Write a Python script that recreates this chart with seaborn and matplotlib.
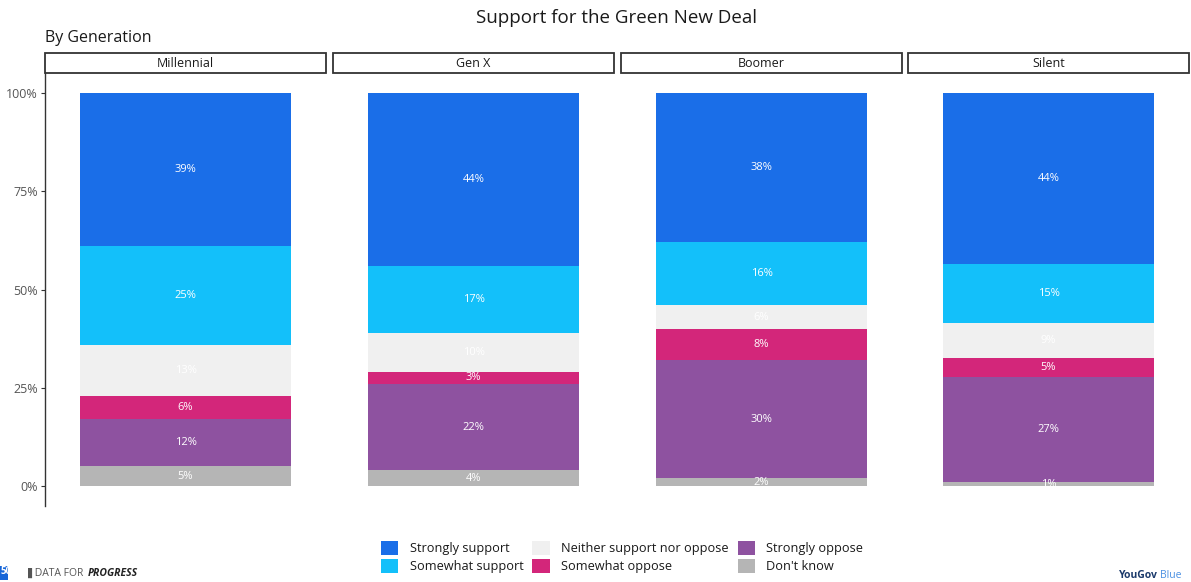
import matplotlib
matplotlib.use("Agg")
import matplotlib.pyplot as plt
from matplotlib.patches import Patch, Rectangle
import numpy as np
import pandas as pd
import seaborn as sns

# ---- data -------------------------------------------------------------
generations = ["Millennial", "Gen X", "Boomer", "Silent"]
responses = ["Strongly support", "Somewhat support", "Neither support nor oppose",
             "Somewhat oppose", "Strongly oppose", "Don't know"]
strongly_support = [39, 44, 38, 44]
somewhat_support = [25, 17, 16, 15]
neither = [13, 10, 6, 9]
somewhat_oppose = [6, 3, 8, 5]
strongly_oppose = [12, 22, 30, 27]
dont_know = [5, 4, 2, 1]
palette = ["#1a6ee8", "#13c0fa", "#f0f0f0", "#d3267a", "#8e52a0", "#b5b5b5"]
y_ticks = [0, 0.25, 0.5, 0.75, 1.0]
y_tick_labels = ["0%", "25%", "50%", "75%", "100%"]

series = [strongly_support, somewhat_support, neither,
          somewhat_oppose, strongly_oppose, dont_know]
rows = []
for gi, gen in enumerate(generations):
    for ri, resp in enumerate(responses):
        rows.append({"generation": gen, "response": resp, "value": series[ri][gi]})
df = pd.DataFrame(rows)
df["share"] = df["value"] / df.groupby("generation")["value"].transform("sum")
# stacking from the bottom: Don't know first, Strongly support on top
stack_order = responses[::-1]
df["response"] = pd.Categorical(df["response"], stack_order, ordered=True)
df = df.sort_values(["generation", "response"])
df["top"] = df.groupby("generation")["share"].cumsum()
df["mid"] = df["top"] - df["share"] / 2

# ---- figure -----------------------------------------------------------
sns.set_theme(style="white")
plt.rcParams["font.family"] = ["Open Sans", "DejaVu Sans"]

W, H = 1191, 582
fig = plt.figure(figsize=(W / 100, H / 100), dpi=100)

panel_left = [45, 333, 621, 908]
panel_w = 281
ax_top, ax_bot = 73.3, 505.7
ax_h = ax_bot - ax_top
color_of = dict(zip(responses, palette))

axes = []
for i, gen in enumerate(generations):
    ax = fig.add_axes([panel_left[i] / W, (H - ax_bot) / H,
                       panel_w / W, ax_h / H])
    axes.append(ax)
    sub = df[df["generation"] == gen]
    # overlapping cumulative bars give the stacked look (tallest first)
    for resp in responses:
        r = sub[sub["response"] == resp]
        sns.barplot(data=r, x="generation", y="top", color=color_of[resp],
                    width=0.75, saturation=1, ax=ax, errorbar=None,
                    linewidth=0)
    for _, r in sub.iterrows():
        ax.text(0, r["mid"], f"{int(r['value'])}%", ha="center", va="center",
                color="white", fontsize=8)
    ax.set_xlim(-0.5, 0.5)
    ax.set_ylim(-0.05, 1.05)
    ax.set_xlabel("")
    ax.set_ylabel("")
    ax.set_xticks([])
    for s in ["top", "right", "bottom", "left"]:
        ax.spines[s].set_visible(False)
    if i == 0:
        ax.spines["left"].set_visible(True)
        ax.spines["left"].set_color("#333333")
        ax.spines["left"].set_linewidth(1.0)
        ax.set_yticks(y_ticks)
        ax.set_yticklabels(y_tick_labels, fontsize=9, color="#555555")
        ax.tick_params(axis="y", length=3, width=0.8, color="#333333",
                       pad=2, left=True)
    else:
        ax.set_yticks([])
    # facet strip
    strip_h = 20 / ax_h
    ax.add_patch(Rectangle((0, 1.0), 1, strip_h,
                           transform=ax.transAxes, clip_on=False,
                           facecolor="white", edgecolor="#333333", linewidth=1.3))
    ax.text(0.5, 1.0 + strip_h / 2, gen,
            transform=ax.transAxes, ha="center", va="center",
            fontsize=9, color="#1a1a1a")

fig.text(617 / W, 1 - 18 / H, "Support for the Green New Deal",
         ha="center", va="center", fontsize=13.5, color="#1a1a1a")
fig.text(45 / W, 1 - 38 / H, "By Generation",
         ha="left", va="center", fontsize=11.5, color="#1a1a1a")

handles = [Patch(facecolor=c, edgecolor="none", label=l)
           for l, c in zip(responses, palette)]
fig.legend(handles=handles, ncol=3, loc="center", frameon=False,
           bbox_to_anchor=(622 / W, 1 - 557 / H), fontsize=9.2,
           handlelength=1.35, handleheight=1.35, handletextpad=0.9,
           columnspacing=0.7, labelspacing=0.25, labelcolor="#1a1a1a")

# footer marks
fig.patches.append(Rectangle((0, 1 - 580 / H), 8 / W, 14 / H,
                             transform=fig.transFigure, facecolor="#1565d8",
                             edgecolor="none"))
fig.text(1 / W, 1 - 572 / H, "50", ha="left", va="center", fontsize=7,
         color="white", fontweight="bold")
fig.text(24 / W, 1 - 573 / H, "\u2590 DATA FOR ", ha="left", va="center",
         fontsize=7.5, color="#555555")
fig.text(88 / W, 1 - 573 / H, "PROGRESS", ha="left", va="center",
         fontsize=7.5, color="#222222", fontweight="bold", style="italic")
fig.text(1119 / W, 1 - 575 / H, "YouGov", ha="left", va="center",
         fontsize=7.5, color="#1b3a6b", fontweight="bold")
fig.text(1160 / W, 1 - 575 / H, "Blue", ha="left", va="center",
         fontsize=7.5, color="#4a90e2")

fig.savefig("out.png", dpi=100)
